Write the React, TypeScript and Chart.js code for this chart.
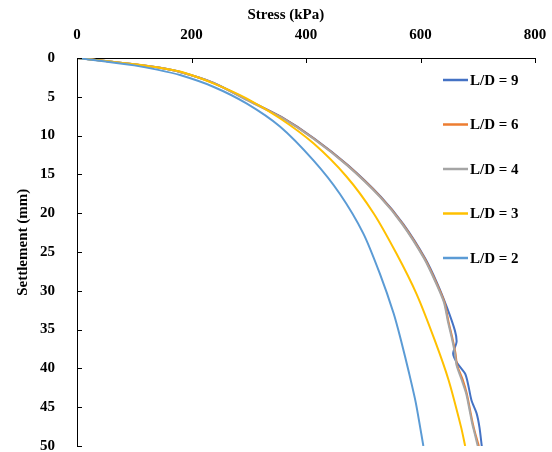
import React, { useEffect, useRef } from 'react';
import { Chart, registerables } from 'chart.js';

Chart.register(...registerables);

// Axis ticks
const stressTicks = [0, 200, 400, 600, 800];
const settleTicks = [0, 5, 10, 15, 20, 25, 30, 35, 40, 45, 50];

const xTitle = 'Stress (kPa)';
const yTitle = 'Settlement (mm)';

// Series labels and colours
const seriesLabels = ['L/D = 9', 'L/D = 6', 'L/D = 4', 'L/D = 3', 'L/D = 2'];
const seriesColors = ['#4472C4', '#ED7D31', '#A5A5A5', '#FFC000', '#5B9BD5'];

// L/D = 9
const ld9Stress = [0, 50, 100, 140, 180, 239, 298, 357, 415, 473, 531, 570, 608, 629, 646, 660, 663, 657, 664, 678, 683, 689, 698, 703, 707];
const ld9Settle = [0, 0.4, 0.8, 1.2, 1.8, 3.2, 5.4, 7.6, 10.4, 13.8, 17.9, 21.4, 25.8, 29.0, 32.1, 35.1, 36.6, 38.1, 39.3, 40.7, 42, 44.1, 45.8, 47.6, 50];

// L/D = 6
const ld6Stress = [0, 50, 100, 140, 180, 238, 297, 356, 414, 472, 530, 569, 607, 628, 642, 649, 656, 661, 664, 674, 681, 687, 691, 696, 702];
const ld6Settle = [0, 0.4, 0.8, 1.2, 1.8, 3.2, 5.4, 7.6, 10.4, 13.8, 17.9, 21.4, 25.8, 29.0, 31.5, 34, 36.2, 38, 39.6, 41.5, 43.3, 45.5, 47, 48.5, 50];

// L/D = 4
const ld4Stress = [0, 50, 100, 140, 180, 238, 296, 355, 413, 471, 529, 568, 606, 627, 641, 648, 655, 660, 663, 672, 680, 686, 690, 695, 700];
const ld4Settle = [0, 0.4, 0.8, 1.2, 1.8, 3.2, 5.4, 7.6, 10.4, 13.8, 17.9, 21.4, 25.8, 29.0, 31.5, 34, 36.2, 38, 39.6, 41.5, 43.3, 45.5, 47, 48.5, 50];

// L/D = 3
const ld3Stress = [0, 50, 100, 140, 180, 238, 296, 355, 413, 471, 518, 558, 593, 625, 649, 671, 678];
const ld3Settle = [0, 0.4, 0.8, 1.2, 1.75, 3.27, 5.2, 7.8, 11.0, 15.3, 20.0, 25.2, 30.4, 36.4, 41.5, 47.6, 50];

// L/D = 2
const ld2Stress = [0, 50, 100, 140, 180, 238, 296, 355, 413, 459, 500, 529, 553, 566, 580, 592, 605];
const ld2Settle = [0, 0.45, 0.95, 1.5, 2.2, 3.7, 5.85, 8.86, 13.2, 17.5, 22.6, 27.8, 32.9, 36.4, 40.6, 44.5, 50];

const seriesStress = [ld9Stress, ld6Stress, ld4Stress, ld3Stress, ld2Stress];
const seriesSettle = [ld9Settle, ld6Settle, ld4Settle, ld3Settle, ld2Settle];

const FONT_FAMILY = '"Liberation Serif", "Times New Roman", serif';

const overlayPlugin = {
  id: 'overlay',
  afterDraw(chart: any) {
    const { ctx, chartArea, scales } = chart;
    const x = scales.x;
    const y = scales.y;
    const w = chartArea.right - chartArea.left;
    const h = chartArea.bottom - chartArea.top;
    ctx.save();
    // inside tick marks
    ctx.strokeStyle = '#000';
    ctx.lineWidth = 1;
    stressTicks.forEach((v) => {
      const px = Math.round(x.getPixelForValue(v)) + 0.5;
      ctx.beginPath();
      ctx.moveTo(px, chartArea.top);
      ctx.lineTo(px, chartArea.top + 5);
      ctx.stroke();
    });
    settleTicks.forEach((v) => {
      const py = Math.round(y.getPixelForValue(v)) + 0.5;
      ctx.beginPath();
      ctx.moveTo(chartArea.left, py);
      ctx.lineTo(chartArea.left + 5, py);
      ctx.stroke();
    });
    // axis titles
    ctx.fillStyle = '#000';
    ctx.font = 'bold 15px ' + FONT_FAMILY;
    ctx.textAlign = 'center';
    ctx.textBaseline = 'middle';
    ctx.fillText(xTitle, chartArea.left + w * 0.456, 15);
    ctx.save();
    ctx.translate(23, chartArea.top + h * 0.475);
    ctx.rotate(-Math.PI / 2);
    ctx.fillText(yTitle, 0, 0);
    ctx.restore();
    // legend
    ctx.textAlign = 'left';
    seriesLabels.forEach((label, i) => {
      const ly = chartArea.top + 22 + i * 44.5;
      ctx.strokeStyle = seriesColors[i];
      ctx.lineWidth = 2.5;
      ctx.beginPath();
      ctx.moveTo(chartArea.right - 92, ly);
      ctx.lineTo(chartArea.right - 67, ly);
      ctx.stroke();
      ctx.fillStyle = '#000';
      ctx.fillText(label, chartArea.right - 65, ly + 1);
    });
    ctx.restore();
  },
};

export default function App() {
  const canvasRef = useRef<HTMLCanvasElement | null>(null);

  useEffect(() => {
    const canvas = canvasRef.current;
    if (!canvas) return;
    const datasets = seriesLabels.map((label, i) => ({
      label,
      data: seriesStress[i].map((s, j) => ({ x: s, y: seriesSettle[i][j] })),
      borderColor: seriesColors[i],
      backgroundColor: seriesColors[i],
      borderWidth: 2,
      pointRadius: 0,
      showLine: true,
      fill: false,
      tension: 0.25,
      order: seriesLabels.length - i,
    }));

    const chart = new Chart(canvas, {
      type: 'scatter',
      data: { datasets },
      options: {
        responsive: false,
        animation: false,
        devicePixelRatio: 1,
        layout: { padding: { left: 0, top: 0, right: 17, bottom: 6 } },
        plugins: {
          legend: { display: false },
          tooltip: { enabled: false },
          title: { display: false },
        },
        scales: {
          x: {
            type: 'linear',
            position: 'top',
            min: 0,
            max: 800,
            afterBuildTicks: (s: any) => {
              s.ticks = stressTicks.map((v) => ({ value: v }));
            },
            ticks: {
              color: '#000',
              padding: 14,
              font: { family: FONT_FAMILY, size: 15, weight: 'bold' },
              maxRotation: 0,
            },
            grid: { display: true, drawOnChartArea: false, drawTicks: false },
            border: { display: true, color: '#000', width: 1 },
            afterFit: (s: any) => {
              s.height = 58;
              s.paddingLeft = 0;
              s.paddingRight = 0;
            },
          },
          y: {
            type: 'linear',
            position: 'left',
            reverse: true,
            min: 0,
            max: 50,
            afterBuildTicks: (s: any) => {
              s.ticks = settleTicks.map((v) => ({ value: v }));
            },
            ticks: {
              color: '#000',
              padding: 22,
              font: { family: FONT_FAMILY, size: 15, weight: 'bold' },
            },
            grid: { display: true, drawOnChartArea: false, drawTicks: false },
            border: { display: true, color: '#000', width: 1 },
            afterFit: (s: any) => {
              s.width = 77;
              s.paddingTop = 0;
              s.paddingBottom = 0;
            },
          },
        },
      },
      plugins: [overlayPlugin],
    } as any);

    return () => {
      chart.destroy();
    };
  }, []);

  return (
    <div style={{ position: 'absolute', left: 0, top: 0, width: 552, height: 452, background: '#fff' }}>
      <canvas ref={canvasRef} width={552} height={452} style={{ display: 'block' }} />
    </div>
  );
}
